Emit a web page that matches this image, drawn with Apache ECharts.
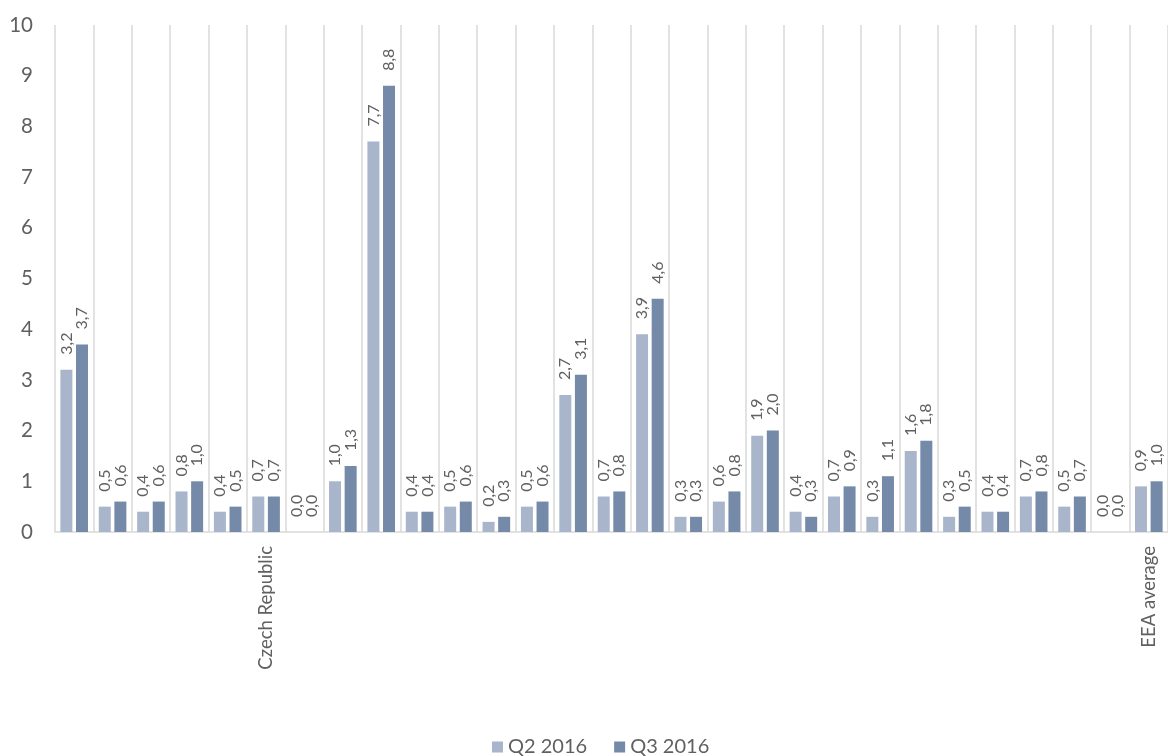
<!DOCTYPE html>
<html><head><meta charset="utf-8">
<script src="https://cdn.jsdelivr.net/npm/echarts@6/dist/echarts.min.js"></script>
<style>html,body{margin:0;padding:0;background:#fff}#c{width:1168px;height:756px}</style>
</head><body><div id="c"></div>
<script>
const categories = ['', '', '', '', '', 'Czech Republic', '', '', '', '', '', '', '', '', '', '', '', '', '', '', '', '', '', '', '', '', '', '', 'EEA average'];
const q2 = [3.2, 0.5, 0.4, 0.8, 0.4, 0.7, 0.0, 1.0, 7.7, 0.4, 0.5, 0.2, 0.5, 2.7, 0.7, 3.9, 0.3, 0.6, 1.9, 0.4, 0.7, 0.3, 1.6, 0.3, 0.4, 0.7, 0.5, 0.0, 0.9];
const q3 = [3.7, 0.6, 0.6, 1.0, 0.5, 0.7, 0.0, 1.3, 8.8, 0.4, 0.6, 0.3, 0.6, 3.1, 0.8, 4.6, 0.3, 0.8, 2.0, 0.3, 0.9, 1.1, 1.8, 0.5, 0.4, 0.8, 0.7, 0.0, 1.0];
const seriesNames = ['Q2 2016', 'Q3 2016'];
const yTicks = [0, 10, 1];

const FONT = 'Lato';
const fmt = v => v.toFixed(1).replace('.', ',');
const labelCfg = {
  show: true, position: 'top', rotate: 90, align: 'left', verticalAlign: 'middle',
  distance: 15, color: '#606060', fontFamily: FONT, fontSize: 16,
  formatter: p => fmt(p.value)
};
const chart = echarts.init(document.getElementById('c'), null, {renderer: 'canvas'});
chart.setOption({
  animation: false,
  textStyle: {fontFamily: FONT},
  grid: {left: 55, top: 25, width: 1119, bottom: 224, containLabel: false},
  legend: {
    data: seriesNames, bottom: -6, left: 487, itemWidth: 11, itemHeight: 11, itemGap: 27,
    icon: 'rect', textStyle: {color: '#606060', fontSize: 20, fontFamily: FONT}
  },
  xAxis: {
    type: 'category', data: categories,
    axisLine: {show: true, lineStyle: {color: '#d9d9d9', width: 1.5}},
    axisTick: {show: false},
    splitLine: {show: true, interval: 0, lineStyle: {color: '#d9d9d9', width: 1.5}},
    axisLabel: {interval: 0, rotate: 90, margin: 14, padding: [10, 0, 0, 0], color: '#606060', fontSize: 18.5, fontFamily: FONT}
  },
  yAxis: {
    type: 'value', min: yTicks[0], max: yTicks[1], interval: yTicks[2],
    axisLine: {show: false}, axisTick: {show: false}, splitLine: {show: false},
    axisLabel: {margin: 22, color: '#606060', fontSize: 20.5, fontFamily: FONT}
  },
  series: [
    {name: seriesNames[0], type: 'bar', data: q2, barWidth: 12, barGap: '30%',
     itemStyle: {color: '#a8b5cb'}, label: labelCfg},
    {name: seriesNames[1], type: 'bar', data: q3, barWidth: 12, barGap: '30%',
     itemStyle: {color: '#7589a8'}, label: labelCfg}
  ]
});
</script></body></html>
